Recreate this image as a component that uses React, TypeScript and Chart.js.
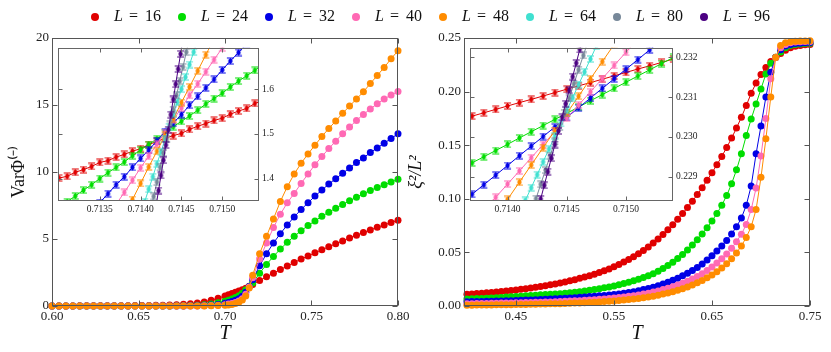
import React, { useEffect, useRef } from 'react';
import { Chart, registerables } from 'chart.js';
Chart.register(...registerables);

// ---------- series identity ----------
const SIZES = ['16', '24', '32', '40', '48', '64', '80', '96'];
const COLORS = ['#e00000', '#00dd00', '#0000e6', '#ff69b4', '#ff8c00', '#40e0d0', '#778899', '#4b0082'];

// ---------- left main panel: Var Phi(-) vs T ----------
const T_VAR = [0.600,0.604,0.608,0.612,0.616,0.620,0.624,0.628,0.632,0.636,0.640,0.644,0.648,0.652,0.656,0.660,0.664,0.668,0.672,0.676,0.680,0.684,0.688,0.692,0.696,0.700,0.702,0.704,0.706,0.708,0.710,0.712,0.714,0.716,0.720,0.724,0.728,0.732,0.736,0.740,0.744,0.748,0.752,0.756,0.760,0.764,0.768,0.772,0.776,0.780,0.784,0.788,0.792,0.796,0.800];
const VAR_16 = [0.00,0.00,0.00,0.00,0.01,0.01,0.01,0.01,0.01,0.02,0.02,0.02,0.03,0.03,0.04,0.05,0.06,0.08,0.10,0.13,0.17,0.22,0.30,0.42,0.58,0.75,0.84,0.93,1.02,1.12,1.22,1.33,1.47,1.60,1.90,2.18,2.45,2.72,2.98,3.25,3.50,3.74,3.97,4.20,4.42,4.64,4.86,5.07,5.28,5.48,5.68,5.87,6.05,6.23,6.40];
const VAR_24 = [0.00,0.00,0.00,0.00,0.00,0.00,0.00,0.00,0.00,0.00,0.00,0.00,0.00,0.00,0.00,0.00,0.00,0.00,0.01,0.02,0.03,0.05,0.09,0.15,0.24,0.36,0.43,0.52,0.63,0.77,0.96,1.21,1.46,1.72,2.45,3.10,3.70,4.25,4.75,5.20,5.62,6.00,6.35,6.70,7.00,7.30,7.58,7.85,8.12,8.38,8.62,8.85,9.05,9.25,9.45];
const VAR_32 = [0.00,0.00,0.00,0.00,0.00,0.00,0.00,0.00,0.00,0.00,0.00,0.00,0.00,0.00,0.00,0.00,0.00,0.00,0.00,0.00,0.01,0.02,0.04,0.07,0.12,0.20,0.26,0.33,0.42,0.55,0.72,1.02,1.45,1.95,3.00,3.90,4.70,5.40,6.05,6.65,7.20,7.70,8.20,8.65,9.10,9.50,9.90,10.30,10.70,11.05,11.45,11.80,12.15,12.50,12.85];
const VAR_40 = [0.00,0.00,0.00,0.00,0.00,0.00,0.00,0.00,0.00,0.00,0.00,0.00,0.00,0.00,0.00,0.00,0.00,0.00,0.00,0.00,0.00,0.00,0.01,0.03,0.06,0.10,0.14,0.19,0.26,0.38,0.55,0.88,1.42,2.10,3.50,4.70,5.85,6.85,7.70,8.40,9.15,9.85,10.55,11.15,11.75,12.30,12.85,13.35,13.85,14.30,14.70,15.10,15.45,15.75,16.00];
const VAR_48 = [0.00,0.00,0.00,0.00,0.00,0.00,0.00,0.00,0.00,0.00,0.00,0.00,0.00,0.00,0.00,0.00,0.00,0.00,0.00,0.00,0.00,0.00,0.00,0.01,0.03,0.05,0.08,0.12,0.18,0.28,0.44,0.75,1.35,2.30,3.90,5.20,6.50,7.80,8.90,9.85,10.65,11.35,12.00,12.65,13.25,13.80,14.38,14.92,15.45,15.98,16.60,17.20,17.80,18.45,19.05];

// ---------- right main panel: xi^2/L^2 vs T ----------
const T_XI = [0.400,0.405,0.410,0.415,0.420,0.425,0.430,0.435,0.440,0.445,0.450,0.455,0.460,0.465,0.470,0.475,0.480,0.485,0.490,0.495,0.500,0.505,0.510,0.515,0.520,0.525,0.530,0.535,0.540,0.545,0.550,0.555,0.560,0.565,0.570,0.575,0.580,0.585,0.590,0.595,0.600,0.605,0.610,0.615,0.620,0.625,0.630,0.635,0.640,0.645,0.650,0.655,0.660,0.665,0.670,0.675,0.680,0.685,0.690,0.695,0.700,0.705,0.710,0.715,0.720,0.725,0.730,0.735,0.740,0.745,0.750];
const XI_16 = [0.0110,0.0113,0.0116,0.0120,0.0123,0.0127,0.0131,0.0135,0.0140,0.0145,0.0150,0.0156,0.0162,0.0168,0.0175,0.0182,0.0190,0.0198,0.0206,0.0215,0.0225,0.0235,0.0246,0.0258,0.0270,0.0283,0.0297,0.0312,0.0328,0.0345,0.0365,0.0387,0.0410,0.0434,0.0460,0.0488,0.0518,0.0551,0.0587,0.0626,0.0668,0.0712,0.0759,0.0809,0.0862,0.0918,0.0977,0.1039,0.1104,0.1172,0.1243,0.1317,0.1395,0.1478,0.1566,0.1660,0.1760,0.1870,0.1985,0.2080,0.2160,0.2225,0.2280,0.2320,0.2356,0.2386,0.2408,0.2422,0.2431,0.2437,0.2440];
const XI_24 = [0.0065,0.0067,0.0069,0.0071,0.0073,0.0075,0.0077,0.0080,0.0083,0.0086,0.0089,0.0092,0.0095,0.0098,0.0101,0.0104,0.0107,0.0110,0.0113,0.0115,0.0118,0.0123,0.0128,0.0134,0.0140,0.0147,0.0154,0.0162,0.0170,0.0178,0.0187,0.0198,0.0210,0.0222,0.0236,0.0250,0.0266,0.0283,0.0302,0.0324,0.0350,0.0377,0.0408,0.0442,0.0480,0.0522,0.0568,0.0618,0.0672,0.0730,0.0793,0.0862,0.0940,0.1030,0.1140,0.1270,0.1420,0.1590,0.1745,0.1885,0.2025,0.2165,0.2265,0.2320,0.2370,0.2408,0.2430,0.2440,0.2445,0.2448,0.2450];
const XI_32 = [0.0040,0.0041,0.0042,0.0043,0.0044,0.0045,0.0046,0.0047,0.0049,0.0050,0.0052,0.0054,0.0055,0.0057,0.0059,0.0061,0.0063,0.0065,0.0067,0.0070,0.0072,0.0075,0.0078,0.0081,0.0084,0.0088,0.0091,0.0095,0.0099,0.0103,0.0108,0.0113,0.0119,0.0126,0.0134,0.0143,0.0153,0.0164,0.0176,0.0190,0.0205,0.0222,0.0240,0.0260,0.0282,0.0306,0.0332,0.0360,0.0392,0.0428,0.0468,0.0513,0.0560,0.0612,0.0672,0.0740,0.0820,0.0940,0.1120,0.1420,0.1680,0.1950,0.2180,0.2318,0.2390,0.2425,0.2440,0.2448,0.2452,0.2455,0.2457];
const XI_40 = [0.0022,0.0022,0.0023,0.0023,0.0024,0.0025,0.0026,0.0027,0.0028,0.0029,0.0030,0.0031,0.0032,0.0033,0.0034,0.0035,0.0037,0.0038,0.0040,0.0042,0.0044,0.0046,0.0048,0.0050,0.0053,0.0056,0.0059,0.0062,0.0066,0.0070,0.0074,0.0079,0.0084,0.0090,0.0096,0.0103,0.0111,0.0120,0.0130,0.0141,0.0153,0.0166,0.0180,0.0196,0.0213,0.0232,0.0253,0.0276,0.0302,0.0331,0.0364,0.0400,0.0440,0.0486,0.0538,0.0600,0.0670,0.0760,0.0900,0.1100,0.1400,0.1750,0.2120,0.2318,0.2410,0.2440,0.2455,0.2462,0.2465,0.2467,0.2468];
const XI_48 = [0.0008,0.0008,0.0009,0.0009,0.0010,0.0010,0.0011,0.0011,0.0012,0.0012,0.0013,0.0014,0.0015,0.0016,0.0017,0.0018,0.0019,0.0020,0.0021,0.0022,0.0024,0.0025,0.0027,0.0029,0.0031,0.0033,0.0035,0.0038,0.0041,0.0044,0.0047,0.0051,0.0055,0.0060,0.0065,0.0071,0.0077,0.0084,0.0092,0.0101,0.0111,0.0122,0.0134,0.0147,0.0162,0.0178,0.0196,0.0216,0.0238,0.0263,0.0290,0.0320,0.0355,0.0395,0.0440,0.0495,0.0560,0.0640,0.0740,0.0900,0.1200,0.1560,0.1950,0.2318,0.2430,0.2455,0.2465,0.2470,0.2472,0.2473,0.2474];

// ---------- left inset (Var Phi near crossing) ----------
const INL_T16 = [0.7130,0.7131,0.7132,0.7133,0.7134,0.7135,0.7136,0.7137,0.7138,0.7139,0.7140,0.7141,0.7142,0.7143,0.7144,0.7145,0.7146,0.7147,0.7148,0.7149,0.7150,0.7151,0.7152,0.7153,0.7154,0.7155];
const INL_V16 = [1.401,1.405,1.414,1.420,1.427,1.436,1.440,1.448,1.454,1.461,1.467,1.476,1.483,1.490,1.496,1.501,1.510,1.517,1.523,1.530,1.535,1.544,1.551,1.557,1.568,1.575];
const INL_T24 = [0.7131,0.7132,0.7133,0.7134,0.7135,0.7136,0.7137,0.7138,0.7139,0.7140,0.7141,0.7142,0.7143,0.7144,0.7145,0.7146,0.7147,0.7148,0.7149,0.7150,0.7151,0.7152,0.7153,0.7154,0.7155];
const INL_V24 = [1.348,1.361,1.374,1.386,1.400,1.413,1.425,1.437,1.451,1.464,1.476,1.489,1.502,1.516,1.528,1.540,1.553,1.567,1.579,1.591,1.605,1.618,1.630,1.642,1.656];
const INL_T32 = [0.7135,0.7136,0.7137,0.7138,0.7139,0.7140,0.7141,0.7142,0.7143,0.7144,0.7145,0.7146,0.7147,0.7148,0.7149,0.7150,0.7151,0.7152,0.7153];
const INL_V32 = [1.346,1.366,1.386,1.404,1.425,1.445,1.464,1.484,1.505,1.524,1.543,1.564,1.584,1.603,1.622,1.643,1.663,1.682,1.702];
const INL_T40 = [0.7137,0.7138,0.7139,0.7140,0.7141,0.7142,0.7143,0.7144,0.7145,0.7146,0.7147,0.7148,0.7149,0.7150,0.7151];
const INL_V40 = [1.342,1.369,1.396,1.424,1.450,1.477,1.503,1.531,1.558,1.586,1.612,1.639,1.666,1.692,1.720];
const INL_T48 = [0.7138,0.7139,0.7140,0.7141,0.7142,0.7143,0.7144,0.7145,0.7146,0.7147,0.7148,0.7149];
const INL_V48 = [1.317,1.353,1.389,1.426,1.461,1.497,1.533,1.570,1.605,1.641,1.677,1.713];
const INL_T64 = [0.71405,0.71410,0.71415,0.71420,0.71425,0.71430,0.71435,0.71440,0.71445,0.71450,0.71455,0.71460,0.71465,0.71470];
const INL_V64 = [1.348,1.376,1.404,1.433,1.460,1.488,1.516,1.544,1.571,1.600,1.627,1.655,1.683,1.711];
const INL_T80 = [0.71412,0.71416,0.71420,0.71424,0.71428,0.71432,0.71436,0.71440,0.71444,0.71448,0.71452,0.71456,0.71460];
const INL_V80 = [1.327,1.360,1.392,1.425,1.457,1.489,1.521,1.554,1.586,1.618,1.650,1.683,1.715];
const INL_T96 = [0.71419,0.71422,0.71425,0.71428,0.71431,0.71434,0.71437,0.71440,0.71443,0.71446,0.71449,0.71452];
const INL_V96 = [1.339,1.373,1.407,1.441,1.475,1.509,1.543,1.577,1.611,1.645,1.679,1.713];

// ---------- right inset (xi^2/L^2 near crossing) ----------
const INR_T16 = [0.7136,0.7137,0.7138,0.7139,0.7140,0.7141,0.7142,0.7143,0.7144,0.7145,0.7146,0.7147,0.7148,0.7149,0.7150,0.7151,0.7152,0.7153,0.7154];
const INR_V16 = [0.230440,0.230520,0.230605,0.230690,0.230775,0.230860,0.230940,0.231025,0.231110,0.231195,0.231280,0.231360,0.231445,0.231530,0.231615,0.231700,0.231780,0.231865,0.231950];
const INR_T24 = [0.7137,0.7138,0.7139,0.7140,0.7141,0.7142,0.7143,0.7144,0.7145,0.7146,0.7147,0.7148,0.7149,0.7150,0.7151,0.7152,0.7153,0.7154];
const INR_V24 = [0.229350,0.229505,0.229660,0.229815,0.229975,0.230130,0.230285,0.230440,0.230590,0.230750,0.230905,0.231060,0.231215,0.231370,0.231525,0.231680,0.231835,0.231990];
const INR_T32 = [0.7137,0.7138,0.7139,0.7140,0.7141,0.7142,0.7143,0.7144,0.7145,0.7146,0.7147,0.7148,0.7149,0.7150,0.7151,0.7152,0.7153];
const INR_V32 = [0.228565,0.228805,0.229045,0.229285,0.229530,0.229770,0.230010,0.230250,0.230490,0.230730,0.230975,0.231215,0.231455,0.231695,0.231935,0.232180,0.232420];
const INR_T40 = [0.7138,0.7139,0.7140,0.7141,0.7142,0.7143,0.7144,0.7145,0.7146,0.7147,0.7148,0.7149,0.7150,0.7151];
const INR_V40 = [0.228160,0.228490,0.228820,0.229150,0.229480,0.229810,0.230140,0.230470,0.230800,0.231130,0.231460,0.231790,0.232120,0.232450];
const INR_T48 = [0.7139,0.7140,0.7141,0.7142,0.7143,0.7144,0.7145,0.7146,0.7147,0.7148,0.7149];
const INR_V48 = [0.228005,0.228436,0.228867,0.229298,0.229730,0.230160,0.230590,0.231020,0.231455,0.231885,0.232315];
const INR_T64 = [0.71410,0.71415,0.71420,0.71425,0.71430,0.71435,0.71440,0.71445,0.71450,0.71455,0.71460,0.71465,0.71470,0.71475];
const INR_V64 = [0.228090,0.228410,0.228730,0.229055,0.229375,0.229700,0.230020,0.230340,0.230665,0.230985,0.231310,0.231630,0.231950,0.232275];
const INR_T80 = [0.71420,0.71424,0.71428,0.71432,0.71436,0.71440,0.71444,0.71448,0.71452,0.71456,0.71460,0.71464,0.71468];
const INR_V80 = [0.228095,0.228455,0.228815,0.229170,0.229530,0.229890,0.230250,0.230605,0.230965,0.231325,0.231685,0.232040,0.232400];
const INR_T96 = [0.71425,0.71428,0.71431,0.71434,0.71437,0.71440,0.71443,0.71446,0.71449,0.71452,0.71455,0.71458,0.71461,0.71464];
const INR_V96 = [0.228110,0.228450,0.228790,0.229130,0.229470,0.229810,0.230150,0.230490,0.230830,0.231170,0.231510,0.231850,0.232190,0.232530];

// ---------- tick values ----------
const TICKS_VAR_X = [0.60, 0.65, 0.70, 0.75, 0.80];
const TICKS_VAR_Y = [0, 5, 10, 15, 20];
const TICKS_XI_X = [0.45, 0.55, 0.65, 0.75];
const TICKS_XI_Y = [0, 0.05, 0.10, 0.15, 0.20, 0.25];
const TICKS_INL_X = [0.7135, 0.7140, 0.7145, 0.7150];
const TICKS_INL_Y = [1.4, 1.5, 1.6];
const TICKS_INR_X = [0.7140, 0.7145, 0.7150];
const TICKS_INR_Y = [0.229, 0.230, 0.231, 0.232];

const SERIF = '"Liberation Serif", "Times New Roman", serif';

const pts = (xs: number[], ys: number[]) => xs.map((x, i) => ({ x, y: ys[i] }));

function glyph(color: string) {
  const c = document.createElement('canvas');
  c.width = 9; c.height = 8;
  const g = c.getContext('2d')!;
  g.strokeStyle = color; g.fillStyle = color; g.lineWidth = 1.2;
  g.beginPath();
  g.moveTo(1, 1); g.lineTo(8, 1);
  g.moveTo(1, 7); g.lineTo(8, 7);
  g.moveTo(4.5, 1); g.lineTo(4.5, 7);
  g.stroke();
  g.beginPath(); g.arc(4.5, 4, 2.2, 0, Math.PI * 2); g.fill();
  return c;
}

const framePlugin = {
  id: 'frame',
  beforeDraw(chart: any, _a: any, o: any) {
    if (!o.fill) return;
    const a = chart.chartArea;
    chart.ctx.save();
    chart.ctx.fillStyle = o.fill;
    chart.ctx.fillRect(a.left, a.top, a.right - a.left, a.bottom - a.top);
    chart.ctx.restore();
  },
  afterDraw(chart: any, _a: any, o: any) {
    const { ctx, chartArea: a, scales } = chart;
    const xs = scales.x, ys = scales.y;
    ctx.save();
    ctx.strokeStyle = o.color; ctx.lineWidth = 1;
    const L = Math.round(a.left) + 0.5, R = Math.round(a.right) - 0.5;
    const T = Math.round(a.top) + 0.5, B = Math.round(a.bottom) - 0.5;
    ctx.strokeRect(L, T, R - L, B - T);
    ctx.beginPath();
    for (const t of xs.ticks) {
      const p = Math.round(xs.getPixelForValue(t.value)) + 0.5;
      ctx.moveTo(p, B); ctx.lineTo(p, B - o.len);
      ctx.moveTo(p, T); ctx.lineTo(p, T + o.len);
    }
    for (const t of ys.ticks) {
      const p = Math.round(ys.getPixelForValue(t.value)) + 0.5;
      ctx.moveTo(L, p); ctx.lineTo(L + o.len, p);
      ctx.moveTo(R, p); ctx.lineTo(R - o.len, p);
    }
    ctx.stroke();
    ctx.restore();
  },
};

const legendPlugin = {
  id: 'mathLegend',
  afterDraw(chart: any, _a: any, o: any) {
    const ctx = chart.ctx;
    ctx.save();
    ctx.textBaseline = 'middle';
    o.labels.forEach((lab: string, i: number) => {
      const x = o.x0 + i * o.step;
      ctx.fillStyle = o.colors[i];
      ctx.beginPath(); ctx.arc(x, o.y, o.r, 0, Math.PI * 2); ctx.fill();
      ctx.fillStyle = '#111';
      ctx.font = `italic ${o.size}px ${SERIF}`;
      ctx.fillText('L', x + 19, o.y);
      ctx.font = `${o.size}px ${SERIF}`;
      ctx.fillText('=', x + 34, o.y);
      ctx.fillText(lab, x + 50, o.y);
    });
    ctx.restore();
  },
};

function axis(o: any) {
  const vertical = o.pos === 'left' || o.pos === 'right';
  return {
    type: 'linear',
    position: o.pos,
    min: o.min,
    max: o.max,
    grid: { display: false, drawTicks: false, tickLength: 0 },
    border: { display: false },
    ticks: {
      font: { family: SERIF, size: o.font },
      color: '#222',
      padding: o.pad,
      autoSkip: false,
      maxRotation: 0,
      minRotation: 0,
      callback: (v: any) => Number(v).toFixed(o.fmt),
    },
    afterBuildTicks: (s: any) => { s.ticks = o.ticks.map((v: number) => ({ value: v })); },
    afterFit: (s: any) => { if (vertical) s.width = o.size; else s.height = o.size; },
    title: o.title
      ? { display: true, text: o.title, color: '#111', font: { family: SERIF, size: o.tsize, style: o.tstyle || 'normal' }, padding: o.tpad }
      : { display: false },
  };
}

// later series (larger L) are drawn on top, as in the reference
function mainSets(xs: number[], ys: number[][]) {
  return ys.map((y, i) => ({
    label: 'L = ' + SIZES[i],
    data: pts(xs, y),
    order: -i,
    showLine: true,
    borderColor: COLORS[i],
    backgroundColor: COLORS[i],
    borderWidth: 1,
    pointRadius: 3.5,
    pointBorderWidth: 0,
    pointHoverRadius: 3.5,
    clip: false,
  }));
}

function insetSets(xs: number[][], ys: number[][]) {
  return ys.map((y, i) => ({
    label: 'L = ' + SIZES[i],
    data: pts(xs[i], y),
    order: -i,
    showLine: true,
    borderColor: COLORS[i],
    backgroundColor: COLORS[i],
    borderWidth: 1,
    pointStyle: glyph(COLORS[i]),
    pointRadius: 4,
    pointHoverRadius: 4,
    clip: 0,
  }));
}

const baseOpts = (padding: any) => ({
  responsive: false,
  maintainAspectRatio: false,
  animation: false,
  events: [],
  layout: { padding },
});

export default function App() {
  const rA = useRef<HTMLCanvasElement>(null);
  const rB = useRef<HTMLCanvasElement>(null);
  const rC = useRef<HTMLCanvasElement>(null);
  const rD = useRef<HTMLCanvasElement>(null);

  useEffect(() => {
    const charts: Chart[] = [];
    // left main + legend
    charts.push(new Chart(rA.current!, {
      type: 'scatter',
      data: { datasets: mainSets(T_VAR, [VAR_16, VAR_24, VAR_32, VAR_40, VAR_48]) as any },
      options: {
        ...baseOpts({ top: 38, left: 0, right: 0, bottom: 0 }),
        plugins: {
          legend: { display: false }, tooltip: { enabled: false },
          frame: { color: '#555', len: 5 },
          mathLegend: { labels: SIZES, colors: COLORS, x0: 95, step: 87, y: 17, r: 4, size: 16 },
        } as any,
        scales: {
          x: axis({ pos: 'bottom', min: 0.60, max: 0.80, ticks: TICKS_VAR_X, fmt: 2, font: 13, pad: 3, size: 46, title: 'T', tsize: 20, tstyle: 'italic', tpad: { top: 0, bottom: 6 } }),
          y: axis({ pos: 'left', min: 0, max: 20, ticks: TICKS_VAR_Y, fmt: 0, font: 13, pad: 3, size: 52, title: 'VarΦ⁽⁻⁾', tsize: 18, tpad: { top: 8, bottom: 0 } }),
          pad: { type: 'linear', position: 'right', display: true, grid: { display: false, drawTicks: false }, border: { display: false }, ticks: { display: false }, afterFit: (s: any) => { s.width = 433; } },
        } as any,
      },
      plugins: [framePlugin, legendPlugin],
    } as any));
    // right main
    charts.push(new Chart(rB.current!, {
      type: 'scatter',
      data: { datasets: mainSets(T_XI, [XI_16, XI_24, XI_32, XI_40, XI_48]) as any },
      options: {
        ...baseOpts({ top: 38, left: 0, right: 21, bottom: 0 }),
        plugins: { legend: { display: false }, tooltip: { enabled: false }, frame: { color: '#555', len: 5 } } as any,
        scales: {
          x: axis({ pos: 'bottom', min: 0.397, max: 0.75, ticks: TICKS_XI_X, fmt: 2, font: 13, pad: 3, size: 46, title: 'T', tsize: 20, tstyle: 'italic', tpad: { top: 0, bottom: 6 } }),
          y: axis({ pos: 'left', min: 0, max: 0.25, ticks: TICKS_XI_Y, fmt: 2, font: 13, pad: 3, size: 64, title: 'ξ²/L²', tsize: 18, tstyle: 'italic', tpad: { top: 5, bottom: 0 } }),
        } as any,
      },
      plugins: [framePlugin],
    } as any));
    // left inset
    charts.push(new Chart(rC.current!, {
      type: 'scatter',
      data: { datasets: insetSets([INL_T16, INL_T24, INL_T32, INL_T40, INL_T48, INL_T64, INL_T80, INL_T96], [INL_V16, INL_V24, INL_V32, INL_V40, INL_V48, INL_V64, INL_V80, INL_V96]) as any },
      options: {
        ...baseOpts({ top: 3, left: 4, right: 0, bottom: 0 }),
        plugins: { legend: { display: false }, tooltip: { enabled: false }, frame: { color: '#666', len: 4, fill: '#ffffff' } } as any,
        scales: {
          x: axis({ pos: 'bottom', min: 0.712988, max: 0.715451, ticks: TICKS_INL_X, fmt: 4, font: 9.5, pad: 3, size: 24 }),
          y: axis({ pos: 'right', min: 1.3497, max: 1.6928, ticks: TICKS_INL_Y, fmt: 1, font: 9.5, pad: 3, size: 44 }),
        } as any,
      },
      plugins: [framePlugin],
    } as any));
    // right inset
    charts.push(new Chart(rD.current!, {
      type: 'scatter',
      data: { datasets: insetSets([INR_T16, INR_T24, INR_T32, INR_T40, INR_T48, INR_T64, INR_T80, INR_T96], [INR_V16, INR_V24, INR_V32, INR_V40, INR_V48, INR_V64, INR_V80, INR_V96]) as any },
      options: {
        ...baseOpts({ top: 3, left: 4, right: 0, bottom: 0 }),
        plugins: { legend: { display: false }, tooltip: { enabled: false }, frame: { color: '#666', len: 4, fill: '#ffffff' } } as any,
        scales: {
          x: axis({ pos: 'bottom', min: 0.713683, max: 0.715397, ticks: TICKS_INR_X, fmt: 4, font: 9.5, pad: 3, size: 24 }),
          y: axis({ pos: 'right', min: 0.228397, max: 0.232234, ticks: TICKS_INR_Y, fmt: 3, font: 9.5, pad: 3, size: 47 }),
        } as any,
      },
      plugins: [framePlugin],
    } as any));
    return () => charts.forEach((c) => c.destroy());
  }, []);

  const abs = (l: number, t: number, w: number, h: number) => ({ position: 'absolute' as const, left: l, top: t, width: w, height: h });
  return (
    <div style={{ ...abs(0, 0, 831, 352), background: '#fff', overflow: 'hidden' }}>
      <canvas ref={rA} width={831} height={352} style={abs(0, 0, 831, 352)} />
      <canvas ref={rB} width={431} height={352} style={abs(400, 0, 431, 352)} />
      <canvas ref={rC} width={250} height={186} style={abs(53, 39, 250, 186)} />
      <canvas ref={rD} width={255} height={186} style={abs(465, 39, 255, 186)} />
    </div>
  );
}
